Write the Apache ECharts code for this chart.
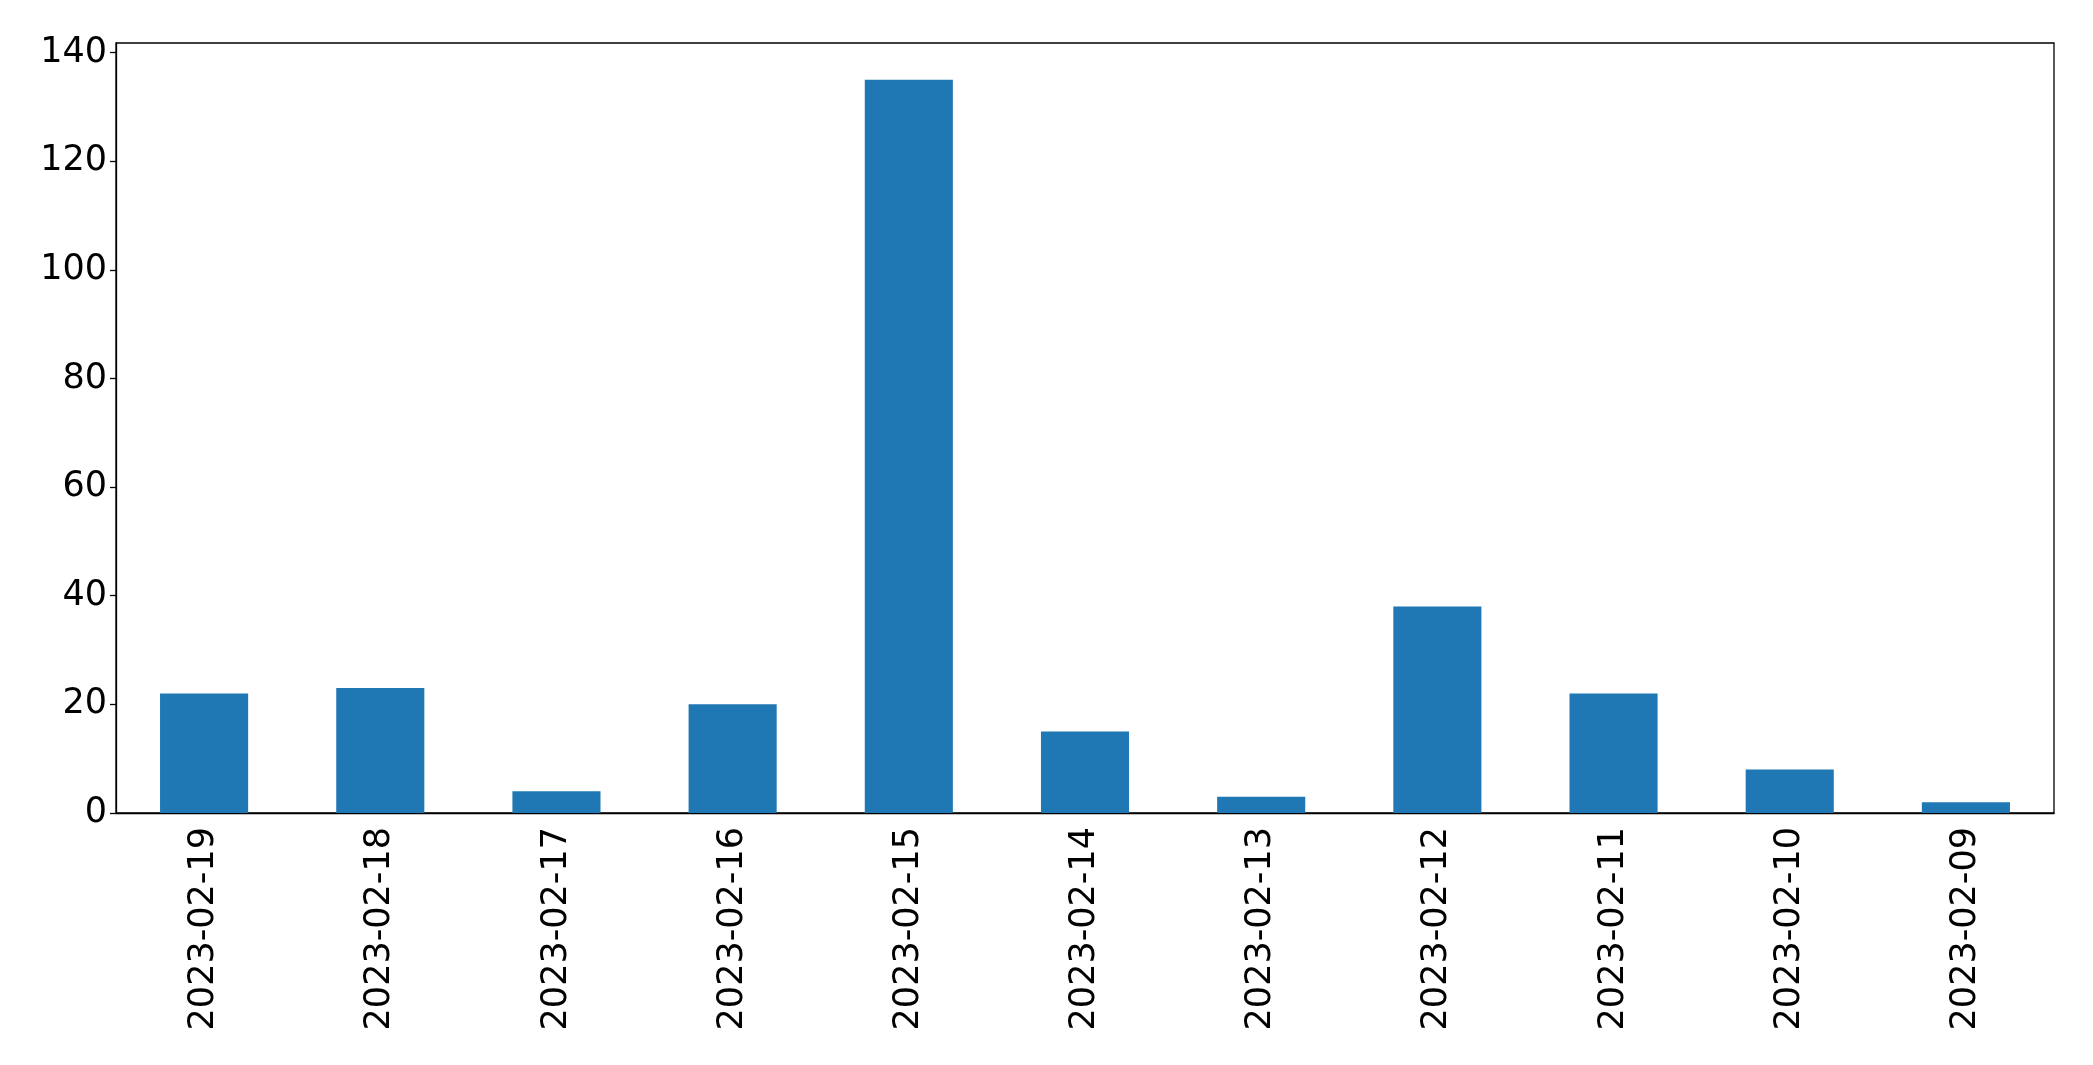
<!DOCTYPE html>
<html>
<head>
<meta charset="utf-8">
<script src="https://cdn.jsdelivr.net/npm/echarts@6/dist/echarts.min.js"></script>
<style>
html,body{margin:0;padding:0;background:#fff;}
#chart{width:2093px;height:1065px;}
</style>
</head>
<body>
<div id="chart"></div>
<script>
const categories = ['2023-02-19','2023-02-18','2023-02-17','2023-02-16','2023-02-15','2023-02-14','2023-02-13','2023-02-12','2023-02-11','2023-02-10','2023-02-09'];
const values = [22, 23, 4, 20, 135, 15, 3, 38, 22, 8, 2];
const yTicks = [0, 20, 40, 60, 80, 100, 120, 140];

const chart = echarts.init(document.getElementById('chart'));
const font = 'DejaVu Sans';
chart.setOption({
  animation: false,
  backgroundColor: '#fff',
  grid: {left: 116, right: 39, top: 43, bottom: 252, show: true, borderColor: '#000', borderWidth: 1.3, backgroundColor: 'transparent'},
  xAxis: {
    type: 'category',
    data: categories,
    axisLine: {lineStyle: {color: '#000', width: 1.3}},
    axisTick: {alignWithLabel: true, length: 7, lineStyle: {color: '#000', width: 1.3}},
    axisLabel: {rotate: 90, color: '#000', fontSize: 35, fontFamily: font, margin: 14, interval: 0}
  },
  yAxis: {
    type: 'value',
    min: 0,
    max: 141.75,
    interval: 20,
    splitLine: {show: false},
    axisLine: {show: true, lineStyle: {color: '#000', width: 1.3}},
    axisTick: {show: true, length: 6, lineStyle: {color: '#000', width: 1.3}},
    axisLabel: {color: '#000', fontSize: 35, fontFamily: font, margin: 9,
      showMaxLabel: false,
      formatter: function(v){ return yTicks.indexOf(v) >= 0 ? String(v) : ''; }}
  },
  series: [{
    type: 'bar',
    data: values,
    barWidth: '50%',
    itemStyle: {color: '#1f77b4'}
  }]
});
</script>
</body>
</html>
